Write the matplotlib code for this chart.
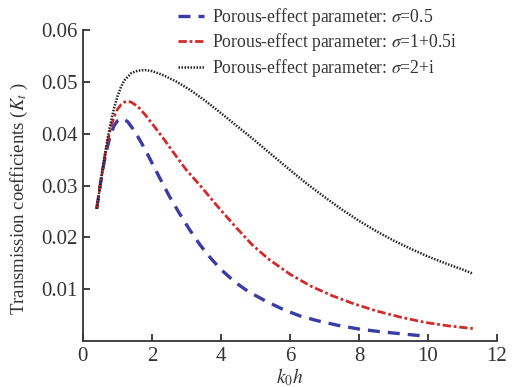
import matplotlib
matplotlib.use("Agg")
from matplotlib import pyplot as plt

# sigma = 0.5
x_blue = [0.4, 0.5, 0.6, 0.7, 0.8, 0.9, 1.0, 1.1, 1.2, 1.3, 1.5, 1.7, 1.9, 2.2, 2.5, 2.8,
          3.1, 3.4, 3.7, 4.0, 4.4, 4.8, 5.3, 5.8, 6.3, 6.8, 7.4, 8.0, 8.6, 9.2, 9.8]
y_blue = [0.0255, 0.0300, 0.0340, 0.0372, 0.0398, 0.0415, 0.0425, 0.0429, 0.0428, 0.0423,
          0.0405, 0.0382, 0.0357, 0.0318, 0.0280, 0.0246, 0.0214, 0.0185, 0.0160, 0.0138,
          0.0114, 0.0095, 0.0077, 0.0061, 0.0048, 0.0039, 0.0030, 0.0023, 0.0018, 0.0014, 0.0010]

# sigma = 1 + 0.5i
x_red = [0.4, 0.5, 0.6, 0.7, 0.8, 0.9, 1.0, 1.1, 1.2, 1.3, 1.4, 1.6, 1.8, 2.0, 2.3, 2.6,
         3.0, 3.4, 3.9, 4.4, 4.9, 5.4, 6.0, 6.6, 7.2, 7.8, 8.5, 9.2, 9.9, 10.6, 11.3]
y_red = [0.0255, 0.0300, 0.0343, 0.0380, 0.0410, 0.0432, 0.0447, 0.0456, 0.0461, 0.0463,
         0.0461, 0.0452, 0.0437, 0.0420, 0.0394, 0.0366, 0.0330, 0.0300, 0.0260, 0.0222,
         0.0186, 0.0157, 0.0129, 0.0106, 0.0088, 0.0073, 0.0058, 0.0046, 0.0036, 0.0029, 0.0024]

# sigma = 2 + i
x_black = [0.4, 0.5, 0.6, 0.7, 0.8, 0.9, 1.0, 1.1, 1.2, 1.4, 1.6, 1.8, 2.0, 2.3, 2.7, 3.1,
           3.5, 4.0, 4.5, 5.0, 5.5, 6.0, 6.5, 7.0, 7.5, 8.0, 8.5, 9.0, 9.5, 10.0, 10.5, 11.0, 11.3]
y_black = [0.0255, 0.0300, 0.0345, 0.0385, 0.0420, 0.0449, 0.0472, 0.0490, 0.0503, 0.0517,
           0.0522, 0.0523, 0.0521, 0.0514, 0.0501, 0.0485, 0.0466, 0.0440, 0.0413, 0.0386,
           0.0358, 0.0330, 0.0303, 0.0278, 0.0254, 0.0232, 0.0212, 0.0194, 0.0178, 0.0163,
           0.0150, 0.0138, 0.0130]

labels = ['Porous-effect parameter: $\\sigma$=0.5',
          'Porous-effect parameter: $\\sigma$=1+0.5i',
          'Porous-effect parameter: $\\sigma$=2+i']
x_ticks = [0, 2, 4, 6, 8, 10, 12]
y_ticks = [0.01, 0.02, 0.03, 0.04, 0.05, 0.06]

plt.rcParams['font.family'] = ['Liberation Serif', 'DejaVu Serif']
plt.rcParams['mathtext.fontset'] = 'stix'

fig = plt.figure(figsize=(5.15, 3.87), dpi=100)
ax = fig.add_axes([0.161, 0.119, 0.804, 0.803])

l1, = ax.plot(x_blue, y_blue, color='#3b3ba6', lw=2.4, linestyle=(0, (3.6, 2.4)))
l2, = ax.plot(x_red, y_red, color='#d42a2a', lw=2.0, linestyle=(0, (3, 1, 1, 1)))
l3, = ax.plot(x_black, y_black, color='#222222', lw=1.8, linestyle=(0, (0.6, 0.6)))

ax.set_xlim(0, 12)
ax.set_ylim(0, 0.06)
ax.set_xticks(x_ticks)
ax.set_yticks(y_ticks)
ax.set_xticklabels([str(t) for t in x_ticks])
ax.set_yticklabels(['%.2f' % t for t in y_ticks])

for side in ['top', 'right']:
    ax.spines[side].set_visible(False)
for side in ['left', 'bottom']:
    ax.spines[side].set_color('#333333')
    ax.spines[side].set_linewidth(1.3)

ax.tick_params(direction='in', length=5, width=1.3, color='#333333',
               labelsize=15, labelcolor='#333333', pad=4)

ax.set_xlabel('$k_0h$', fontsize=14, color='#333333')
ax.xaxis.set_label_coords(0.5, -0.082)
ax.set_ylabel('Transmission coefficients ($K_t$ )', fontsize=13.5, color='#333333')
ax.yaxis.set_label_coords(-0.128, 0.46)

fig.legend([l1, l2, l3], labels, loc='upper left', bbox_to_anchor=(0.345, 0.985),
           frameon=False, fontsize=12.7, handlelength=1.5, handletextpad=0.45,
           labelspacing=0.2, borderpad=0, borderaxespad=0, labelcolor='#333333')

fig.savefig('out.png', dpi=100)
